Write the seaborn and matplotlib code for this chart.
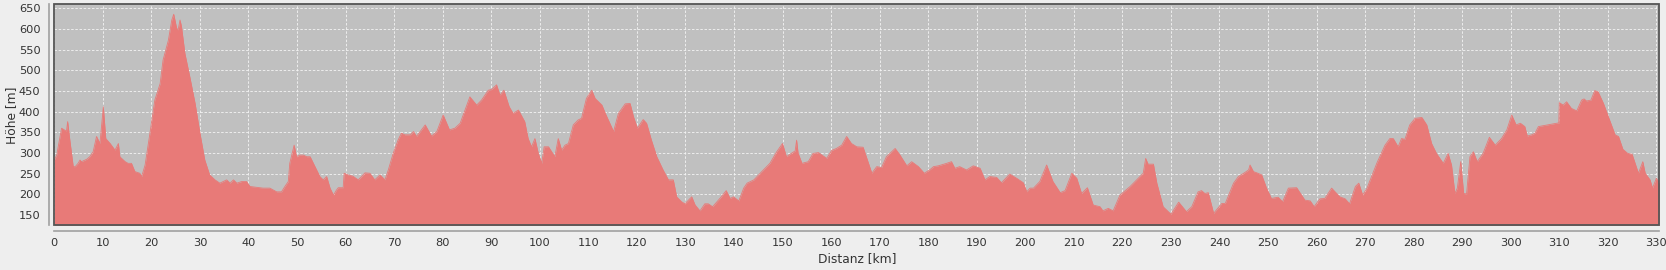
import numpy as np
import pandas as pd
import matplotlib
matplotlib.use("Agg")
import matplotlib.pyplot as plt
import seaborn as sns
from matplotlib.patches import Rectangle

distance_km = [
    0, 0.5, 0.8, 1.5, 2.2, 2.5, 2.75, 3.2, 3.9, 4.3, 4.9, 5.3, 5.6, 6.7, 7.3, 8, 8.7, 9.4,
    10.1, 10.6, 11.5, 12.5, 13.2, 13.5, 14.6, 15.2, 15.9, 16.6, 17.6, 18, 18.7, 19.7, 20.7,
    21.8, 22.4, 23.5, 24.2, 24.6, 25.2, 25.5, 25.9, 26.2, 26.9, 27.9, 29, 30, 31, 32, 33.1,
    34.1, 35.5, 36.2, 36.9, 37.6, 38.6, 39.6, 40.3, 41.7, 43, 44.4, 45.8, 46.8, 47.5, 48.2,
    48.5, 49.4, 49.9, 50.6, 51.3, 52, 52.7, 53.7, 54.7, 55.4, 56.1, 56.8, 57.5, 58.1, 58.5,
    59.5, 59.7, 60.5, 61.5, 62.6, 63.3, 64, 65, 66, 67.1, 68.1, 68.8, 69.8, 70.8, 71.5, 72.2,
    73.3, 74, 74.6, 76.4, 77.7, 78.8, 80.1, 81.4, 82.5, 83.6, 85.6, 87, 88, 89.4, 90.1, 91.1,
    91.8, 92.6, 93.7, 94.5, 95.6, 96.9, 97.6, 98.3, 99, 99.7, 100.4, 100.9, 101.8, 103.1,
    103.8, 104.5, 105.2, 105.9, 106.9, 107.9, 108.6, 109.6, 110.7, 111.4, 112.8, 113.5,
    115.2, 116.2, 117.6, 118.6, 119.3, 120.1, 121.3, 122, 123, 124.1, 125.4, 126.5, 127.5,
    128.2, 129.2, 129.9, 131.3, 132, 133, 134, 134.7, 135.6, 137.1, 138.4, 139.2, 139.9,
    141, 142, 142.7, 144.1, 145.4, 147.4, 148.8, 150, 150.8, 151.8, 152.6, 152.9, 153.2,
    154, 155.3, 156.3, 157.4, 159.1, 160.1, 161.1, 162.2, 163.2, 164.2, 165.3, 166.6, 168.4,
    169.4, 170.4, 171.4, 173.2, 174.2, 175.6, 176.6, 178, 179.2, 180.4, 181.1, 182.1, 183.8,
    184.8, 185.5, 186.5, 187.9, 189.3, 190.7, 191.7, 192.7, 194.1, 195.1, 196.8, 198.2,
    199.6, 200.3, 201, 201.7, 203, 204.4, 205.7, 207.2, 208.2, 209.6, 210.6, 211.6, 212.8,
    214, 215.4, 216, 217.1, 218.1, 219.5, 221.6, 224.3, 224.8, 225.3, 226.4, 227.1, 228.4,
    230, 231.6, 233.2, 234.3, 235.6, 236.3, 237, 237.7, 238.8, 240.5, 241.2, 242.9, 243.9,
    245, 246, 246.3, 247, 247.7, 248.7, 249.7, 250.7, 252.1, 253, 254.2, 255.9, 257.6,
    258.7, 259.5, 260.7, 261.7, 263.1, 264.8, 265.9, 266.8, 268, 268.7, 269.5, 270.4, 272.4,
    274.1, 275.1, 275.8, 276.8, 277.5, 278.2, 279.2, 280.3, 281.7, 282.7, 283.7, 284.7,
    286.1, 287.1, 287.8, 288.5, 289, 289.7, 290.3, 290.9, 291.6, 292.3, 293.1, 294.3, 295.6,
    296.8, 298.1, 299.2, 300.2, 301.1, 302, 302.9, 303.4, 304.3, 305, 305.7, 309.9, 310,
    310.8, 311.5, 312.5, 313.6, 314.6, 315.1, 315.6, 316.5, 317.3, 318, 319.1, 320.1, 321.5,
    322.2, 323.1, 324.1, 325, 326.3, 327.2, 327.7, 328.7, 329.2, 330, 330.6,
]

elevation_m = [
    283, 295, 315, 360, 355, 352, 376, 331, 267, 267, 275, 283, 279, 285, 291, 303, 340, 323,
    412, 335, 323, 307, 323, 291, 279, 275, 275, 255, 251, 243, 271, 348, 428,
    468, 525, 573, 622, 636, 602, 598, 622, 606, 541, 485, 420, 348, 283, 247, 235,
    227, 235, 227, 235, 227, 231, 231, 219, 217, 215, 215, 206, 206, 219, 231,
    275, 319, 291, 295, 295, 291, 291, 267, 243, 235, 243, 215, 198, 210, 216,
    216, 251, 247, 244, 235, 243, 252, 251, 235, 247, 235, 259, 299, 331, 348, 344,
    344, 352, 340, 368, 341, 352, 392, 356, 360, 372, 436, 416, 428, 452, 454, 465,
    440, 452, 412, 396, 404, 376, 335, 315, 335, 299, 275, 315, 315, 291,
    335, 307, 319, 323, 368, 380, 384, 432, 452, 432, 416, 396,
    352, 396, 419, 420, 388, 360, 381, 372, 331, 291, 259, 235, 235,
    194, 182, 177, 194, 174, 160, 177, 177, 170, 190, 209, 190, 194,
    184, 215, 227, 235, 251, 275, 303, 323, 291, 299, 305, 331, 300,
    275, 279, 299, 301, 287, 306, 311, 319, 340, 323, 315, 314, 251,
    267, 265, 291, 311, 295, 269, 279, 267, 251, 260, 267, 269, 275,
    279, 263, 267, 259, 269, 263, 235, 243, 241, 228, 249, 239,
    228, 206, 215, 215, 231, 271, 231, 204, 209, 251, 239, 202, 216,
    174, 170, 160, 166, 160, 198, 219, 251, 287, 273, 273, 227, 170,
    152, 181, 158, 170, 206, 209, 202, 204, 154, 178, 178, 227, 243,
    251, 259, 271, 255, 252, 247, 215, 190, 193, 182, 215, 216, 186,
    184, 170, 189, 190, 215, 194, 189, 177, 219, 227, 198, 215, 275,
    319, 335, 335, 315, 335, 333, 368, 384, 386, 368, 323, 299,
    275, 299, 271, 202, 215, 279, 202, 201, 291, 303, 279, 299, 338,
    319, 335, 356, 392, 368, 372, 364, 341, 344, 348, 364, 373, 422,
    416, 424, 408, 402, 428, 431, 426, 428, 451, 448, 420, 388, 344,
    340, 309, 299, 297, 251, 279, 251, 235, 215, 239, 227,
]

x_ticks = list(range(0, 331, 10))
y_ticks = list(range(150, 651, 50))

df = pd.DataFrame({"Distanz": distance_km, "Hoehe": elevation_m})

sns.set_theme(style="white")
plt.rcParams["font.family"] = ["DejaVu Sans"]

W, H = 1666, 270
fig = plt.figure(figsize=(W / 100, H / 100), dpi=100, facecolor="#eeeeee")
left_px, right_px, top_px, bottom_px = 54.3, 1659.3, 4.3, 225.3
ax = fig.add_axes([left_px / W, 1 - bottom_px / H, (right_px - left_px) / W, (bottom_px - top_px) / H])
ax.set_facecolor("#c0c0c0")

fill_color = "#e87a78"
ymin, ymax = 125, 660
ax.fill_between(df["Distanz"], df["Hoehe"], ymin, color=fill_color, linewidth=0, zorder=2)
sns.lineplot(data=df, x="Distanz", y="Hoehe", ax=ax, color=fill_color, linewidth=0.6, zorder=3)

ax.set_xlim(0, 330.6)
ax.set_ylim(ymin, ymax)
ax.set_xticks(x_ticks)
ax.set_yticks(y_ticks)
ax.set_xticklabels([str(t) for t in x_ticks])
ax.set_yticklabels([str(t) for t in y_ticks])

ax.grid(True, color="#f4f4f4", linestyle=(0, (3, 2)), linewidth=0.6, zorder=4)
for gl in ax.get_xgridlines() + ax.get_ygridlines():
    gl.set_zorder(4)
    gl.set_alpha(0.35)

for side in ["top", "right"]:
    ax.spines[side].set_visible(False)
for side in ["left", "bottom"]:
    ax.spines[side].set_position(("outward", 4))
    ax.spines[side].set_color("#a0a0a0")
    ax.spines[side].set_linewidth(1.2)

ax.add_patch(Rectangle((0, 0), 1, 1, transform=ax.transAxes, fill=False,
                       edgecolor="#555555", linewidth=1.3, zorder=6, clip_on=False))

ax.tick_params(axis="both", which="major", direction="out", length=3, width=1,
               color="#a0a0a0", labelsize=8.2, labelcolor="#333333", pad=3)
ax.tick_params(axis="x", pad=2.5)

ax.set_xlabel("Distanz [km]", fontsize=8.8, color="#333333")
ax.set_ylabel("Höhe [m]", fontsize=8.8, color="#333333")
plot_w = right_px - left_px
plot_h = bottom_px - top_px
ax.xaxis.set_label_coords(0.5, (bottom_px - 252) / plot_h)
ax.yaxis.set_label_coords((18 - left_px) / plot_w, 0.5)

fig.savefig("out.png", dpi=100, facecolor=fig.get_facecolor())
